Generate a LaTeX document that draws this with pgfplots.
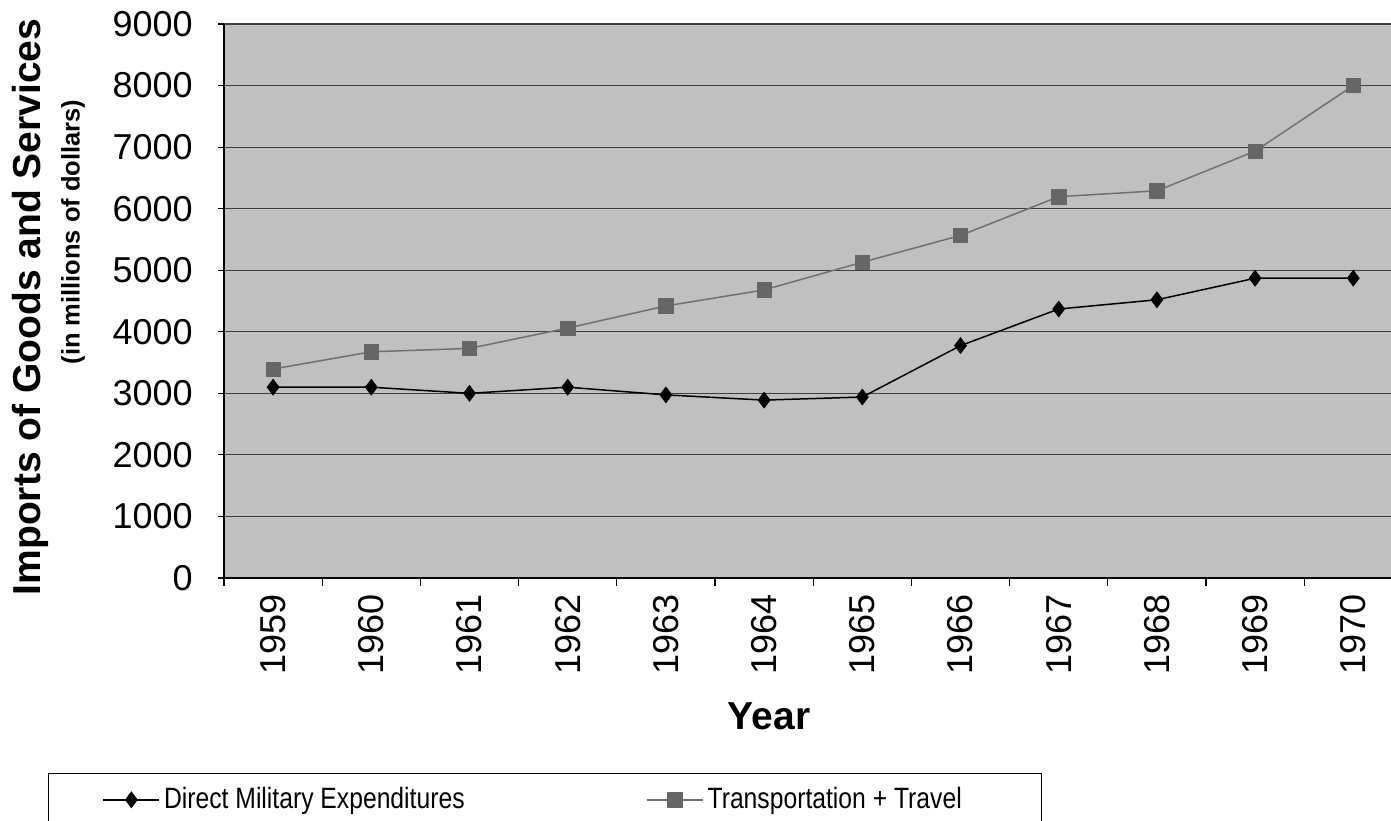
\documentclass[border=0pt]{standalone}
\usepackage{pgfplots}
\pgfplotsset{compat=1.18}
\usepackage{fontspec}
\setmainfont{Liberation Sans}
\definecolor{plotbg}{HTML}{C0C0C0}
\definecolor{gridc}{HTML}{404040}
\definecolor{transline}{HTML}{707070}
\definecolor{transmark}{HTML}{666666}
% legend text: narrow, tall letters
\newcommand{\legtext}[1]{\scalebox{0.84}[1]{#1}}
\begin{document}
\begin{tikzpicture}
\begin{axis}[
  at={(0pt,0pt)}, anchor=south west,
  scale only axis,
  width=583.5pt, height=277pt,
  xmin=-0.5, xmax=11.384,
  ymin=0, ymax=9000,
  axis background/.style={fill=plotbg},
  axis x line*=bottom, axis y line*=left,
  axis line style={black, line width=0.6pt, -},
  ytick={0,1000,...,9000},
  ymajorgrids,
  major grid style={gridc, line width=0.6pt},
  tick align=outside,
  major tick length=3pt,
  tick style={black, line width=0.6pt},
  /pgf/number format/assume math mode=true,
  /pgf/number format/set thousands separator={},
  yticklabel style={font=\fontsize{18}{18}\selectfont, inner sep=0pt, xshift=-12.5pt},
  xtick={0,...,11},
  xticklabels={1959,1960,1961,1962,1963,1964,1965,1966,1967,1968,1969,1970},
  x tick style={draw=none},
  xticklabel style={font=\fontsize{18}{18}\selectfont, rotate=90, anchor=east, inner sep=0pt, xshift=-5pt},
  extra x ticks={-0.5,0.5,...,10.5},
  extra x tick labels={},
  extra x tick style={x tick style={draw=black, line width=0.6pt}, major tick length=4pt},
  legend columns=2,
  legend cell align=left,
  legend style={draw=black, line width=0.6pt, fill=white,
    at={(-0.1508,-0.352)}, anchor=north west,
    font=\fontsize{14.7}{16}\selectfont,
    inner xsep=27pt, inner ysep=5pt},
  legend image code/.code={%
    \draw[mark repeat=2, mark phase=2] plot coordinates {(0pt,0pt) (14pt,0pt) (28pt,0pt)};},
]
% Direct military expenditures
\addplot[black, line width=0.75pt, mark=diamond*, mark size=4pt,
  mark options={fill=black, draw=black, line width=0.3pt}]
  coordinates {
  (0,3100) (1,3100) (2,3000) (3,3100) (4,2975) (5,2890)
  (6,2940) (7,3775) (8,4370) (9,4520) (10,4870) (11,4870)
  };
\addlegendentry{\makebox[239pt][l]{\legtext{Direct Military Expenditures}}}
% Transportation and travel
\addplot[transline, line width=0.75pt, mark=square*, mark size=3.6pt,
  mark options={fill=transmark, draw=transmark, line width=0.3pt}]
  coordinates {
  (0,3395) (1,3675) (2,3730) (3,4060) (4,4420) (5,4680)
  (6,5130) (7,5565) (8,6195) (9,6290) (10,6935) (11,8000)
  };
\addlegendentry{\makebox[138pt][l]{\legtext{Transportation + Travel}}}
\end{axis}
% axis titles
\node[rotate=90, font=\fontsize{19.5}{20}\bfseries\selectfont] at (-97pt,135.5pt) {Imports of Goods and Services};
\node[rotate=90, font=\fontsize{12.75}{13}\bfseries\selectfont] at (-75.5pt,173pt) {(in millions of dollars)};
\node[font=\fontsize{19.5}{20}\bfseries\selectfont] at (272.5pt,-69pt) {Year};
\pgfresetboundingbox
\path (-112pt,-121pt) rectangle (583.5pt,289pt);
\end{tikzpicture}
\end{document}
